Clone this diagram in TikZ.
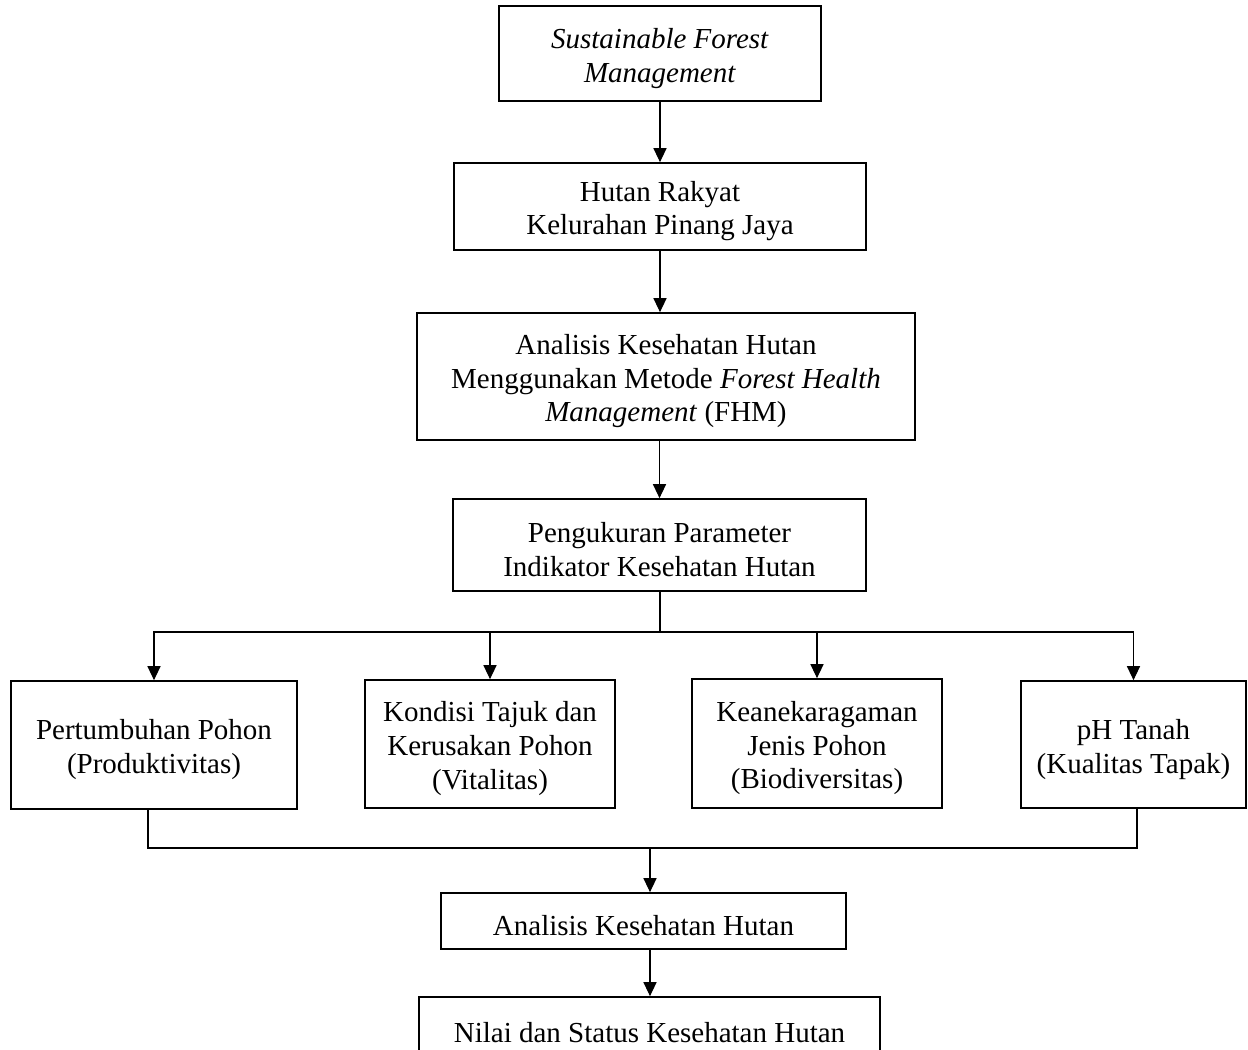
\documentclass[tikz,border=0pt]{standalone}
\usepackage{fontspec}
\setmainfont{Liberation Serif}
\usetikzlibrary{arrows.meta}
\newcommand{\topgap}{\rule{0pt}{16.7pt}}
\tikzset{
    box/.style={draw, line width=1pt, align=center, inner sep=0pt, font=\fontsize{16.5}{19.3}\selectfont},
    link/.style={line width=0.6pt},
    arrow/.style={link, -{Triangle[length=8pt, width=7.5pt]}}
}

\begin{document}
\begin{tikzpicture}[x=0.02cm, y=-0.02cm]
    % Fix the page size
    \useasboundingbox (0,0) rectangle (1248,1050);

    % Draw the upper chain of boxes
    \node[box, minimum width=6.44cm, minimum height=1.90cm] (sfm) at (660,53.5) {\topgap\textit{Sustainable Forest}\\\textit{Management}};
    \node[box, minimum width=8.24cm, minimum height=1.74cm] (hutan) at (660,206.5) {\topgap Hutan Rakyat\\Kelurahan Pinang Jaya};
    \node[box, minimum width=9.96cm, minimum height=2.54cm] (fhm) at (666,376.5) {\topgap Analisis Kesehatan Hutan\\Menggunakan Metode \textit{Forest Health}\\\textit{Management} (FHM)};
    \node[box, minimum width=8.26cm, minimum height=1.84cm] (ukur) at (659.5,545) {\topgap Pengukuran Parameter\\Indikator Kesehatan Hutan};

    % Draw the four indicator boxes
    \node[box, minimum width=5.72cm, minimum height=2.56cm] (tumbuh) at (154,745) {\topgap Pertumbuhan Pohon\\(Produktivitas)};
    \node[box, minimum width=5.00cm, minimum height=2.56cm] (tajuk) at (490,744) {\topgap Kondisi Tajuk dan\\Kerusakan Pohon\\(Vitalitas)};
    \node[box, minimum width=5.00cm, minimum height=2.58cm] (jenis) at (817,743.5) {\topgap Keanekaragaman\\Jenis Pohon\\(Biodiversitas)};
    \node[box, minimum width=4.50cm, minimum height=2.54cm] (tanah) at (1133.5,744.5) {\topgap pH Tanah\\(Kualitas Tapak)};

    % Draw the lower boxes
    \node[box, minimum width=8.10cm, minimum height=1.12cm] (analisis) at (643.5,921) {\topgap Analisis Kesehatan Hutan};
    \node[box, minimum width=9.22cm, minimum height=1.24cm] (nilai) at (649.5,1028) {\topgap Nilai dan Status Kesehatan Hutan};

    % Branch and join points
    \coordinate (split) at (660,632);
    \coordinate (join) at (650,848);

    % Arrows down the upper chain
    \draw[arrow] (sfm.south) -- (sfm.south |- hutan.north);
    \draw[arrow] (hutan.south) -- (hutan.south |- fhm.north);
    \draw[arrow] (fhm.south -| ukur) -- (ukur.north);

    % Split into the indicators
    \draw[link] (ukur.south -| split) -- (split);
    \foreach \k in {tumbuh, tajuk, jenis, tanah} {
        \draw[arrow] (split) -| (\k.north);
    }

    % Join the indicators again
    \draw[link] ([xshift=-0.12cm]tumbuh.south) |- (join);
    \draw[link] ([xshift=0.07cm]tanah.south) |- (join);
    \draw[arrow] (join) -- (join |- analisis.north);
    \draw[arrow] (analisis.south -| join) -- (join |- nilai.north);
\end{tikzpicture}
\end{document}
